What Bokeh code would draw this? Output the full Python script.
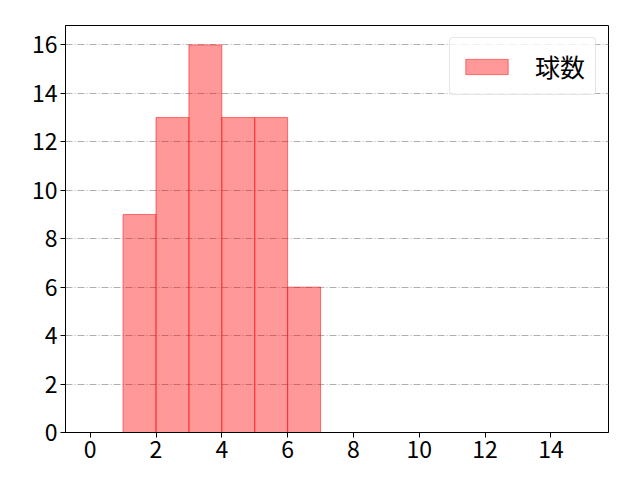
from bokeh.plotting import figure
from bokeh.models import Range1d, FixedTicker, Legend, LegendItem
from bokeh.embed import file_html
from bokeh.resources import INLINE

bin_left = [1, 2, 3, 4, 5, 6]
bin_right = [2, 3, 4, 5, 6, 7]
counts = [9, 13, 16, 13, 13, 6]
series_name = "球数"
x_ticks = [0, 2, 4, 6, 8, 10, 12, 14]
y_ticks = [0, 2, 4, 6, 8, 10, 12, 14, 16]

FONT = "Noto Sans CJK JP"

p = figure(frame_width=543, frame_height=407, output_backend="svg", toolbar_location=None,
           x_range=Range1d(-0.75, 15.75), y_range=Range1d(0, 16.8),
           min_border_left=65, min_border_right=24, min_border_top=25, min_border_bottom=40)
p.background_fill_color = "white"
p.border_fill_color = "white"
p.outline_line_color = "black"
p.outline_line_width = 1

r = p.quad(left=bin_left, right=bin_right, top=counts, bottom=0,
           fill_color="red", fill_alpha=0.4, line_color="red", line_alpha=0.5, line_width=1)

p.xgrid.grid_line_color = None
p.ygrid.grid_line_color = "#b0b0b0"
p.ygrid.grid_line_dash = "7 2 1 2"
p.ygrid.grid_line_width = 1

for ax, ticks in ((p.xaxis[0], x_ticks), (p.yaxis[0], y_ticks)):
    ax.ticker = FixedTicker(ticks=ticks)
    ax.minor_tick_line_color = None
    ax.major_tick_out = 5
    ax.major_tick_in = 0
    ax.major_tick_line_color = "black"
    ax.axis_line_color = "black"
    ax.major_label_text_font = FONT
    ax.major_label_text_font_size = "23px"
    ax.major_label_text_color = "black"
    ax.major_label_standoff = 3

legend = Legend(items=[LegendItem(label=series_name, renderers=[r])], location="top_right")
legend.label_text_font = FONT
legend.label_text_font_size = "25px"
legend.label_text_color = "black"
legend.label_standoff = 22
legend.glyph_width = 53
legend.glyph_height = 19
legend.padding = 10
legend.margin = 12
legend.border_line_color = "#cccccc"
legend.border_line_width = 1
legend.border_radius = 4
legend.background_fill_alpha = 0.8
p.add_layout(legend)

open("out.html", "w").write(file_html(p, INLINE))
